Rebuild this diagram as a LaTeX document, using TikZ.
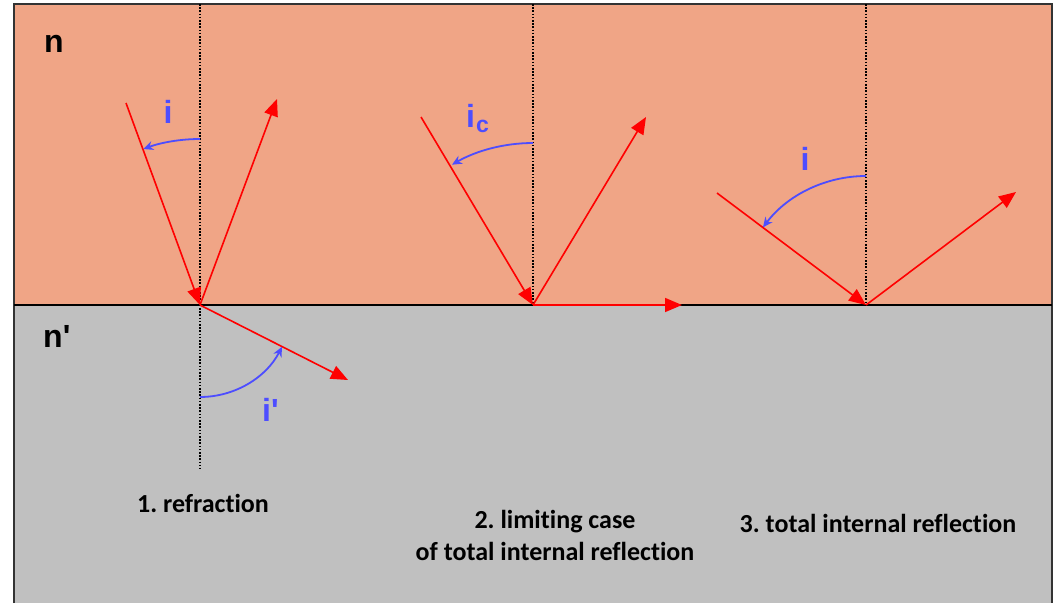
\documentclass[tikz,border=0pt]{standalone}
\usepackage{fontspec}
\setmainfont[Ligatures=NoCommon]{Carlito}
\newfontfamily\arialfont{Liberation Sans}
\usetikzlibrary{arrows.meta}
\frenchspacing
\definecolor{salmon}{RGB}{240,165,134}
\definecolor{mediumgray}{RGB}{192,192,192}
\definecolor{rayred}{RGB}{255,0,0}
\definecolor{angleblue}{RGB}{77,77,255}
\begin{document}
\begin{tikzpicture}[x=1pt,y=-1pt,
  ray/.style={draw=rayred,line width=1.6pt},
  rayarrow/.style={ray,-{Triangle[length=17pt,width=14pt]}},
  rayin/.style={ray,-{Triangle[length=17pt,width=14pt]}},
  normalline/.style={draw=black,line width=1.3pt,dash pattern=on 1.6pt off 1.6pt},
  anglearc/.style={draw=angleblue,line width=1.8pt,-{Stealth[length=10pt,width=9pt]}},
  medium/.style={font=\arialfont\bfseries\fontsize{32}{36}\selectfont,inner sep=0pt},
  anglelabel/.style={font=\arialfont\bfseries\fontsize{32}{36}\selectfont,text=angleblue,inner sep=0pt},
  caption/.style={font=\bfseries\fontsize{26}{32}\selectfont\frenchspacing,inner sep=0pt,align=center}]
\useasboundingbox (0,0) rectangle (1054,603);
% media
\fill[salmon] (14,4) rectangle (1052,305);
\fill[mediumgray] (14,305) rectangle (1052,603);
\draw[line width=2pt,draw=black!80] (14,603) -- (14,4) -- (1052,4) -- (1052,603);
\draw[line width=1.5pt] (14,305) -- (1052,305);
% points
\coordinate (O1) at (200,305);
\coordinate (O2) at (533,305);
\coordinate (O3) at (866,305);
\coordinate (N1t) at (200,4);
\coordinate (N1b) at (200,469);
\coordinate (N2t) at (533,4);
\coordinate (N3t) at (866,4);
\coordinate (A1) at (126,103);
\coordinate (R1) at (277,99);
\coordinate (T1) at (348,380);
\coordinate (A2) at (421,117);
\coordinate (R2) at (646,117);
\coordinate (T2) at (682,305);
\coordinate (A3) at (717,193);
\coordinate (R3) at (1016,192);
% normals
\draw[normalline] (N1t) -- (N1b);
\draw[normalline] (N2t) -- (O2);
\draw[normalline] (N3t) -- (O3);
% rays
\draw[rayin] (A1) -- (O1);
\draw[rayarrow] (O1) -- (R1);
\draw[rayarrow] (O1) -- (T1);
\draw[rayin] (A2) -- (O2);
\draw[rayarrow] (O2) -- (R2);
\draw[rayarrow] (O2) -- (T2);
\draw[rayin] (A3) -- (O3);
\draw[rayarrow] (O3) -- (R3);
% angle arcs (y axis points down, so angles are mirrored)
\draw[anglearc] (O1) ++(-90:166) arc[start angle=-90,end angle=-110,radius=166];
\draw[anglearc] (O1) ++(90:92) arc[start angle=90,end angle=27,radius=92];
\draw[anglearc] (O2) ++(-90:162) arc[start angle=-90,end angle=-120,radius=162];
\draw[anglearc] (O3) ++(-90:129) arc[start angle=-90,end angle=-143,radius=129];
% labels
\node[medium,anchor=base west] (n) at (44,52) {n};
\node[medium,anchor=base west] (np) at (43,347) {n'};
\node[anglelabel,anchor=base] (i1) at (168,123) {i};
\node[anglelabel,anchor=base west] (ip) at (262,421) {i'};
\node[anglelabel,anchor=base west] (ic) at (466,127) {i\kern1pt\raisebox{-5pt}{\fontsize{23}{26}\selectfont c}};
\node[anglelabel,anchor=base] (i3) at (805,170) {i};
\node[caption,anchor=base] (c1) at (203,512) {1. refraction};
\node[caption,anchor=base] (c2) at (555,560) {2. limiting case\\of total internal reflection};
\node[caption,anchor=base] (c3) at (878,532) {3. total internal reflection};
\end{tikzpicture}
\end{document}
